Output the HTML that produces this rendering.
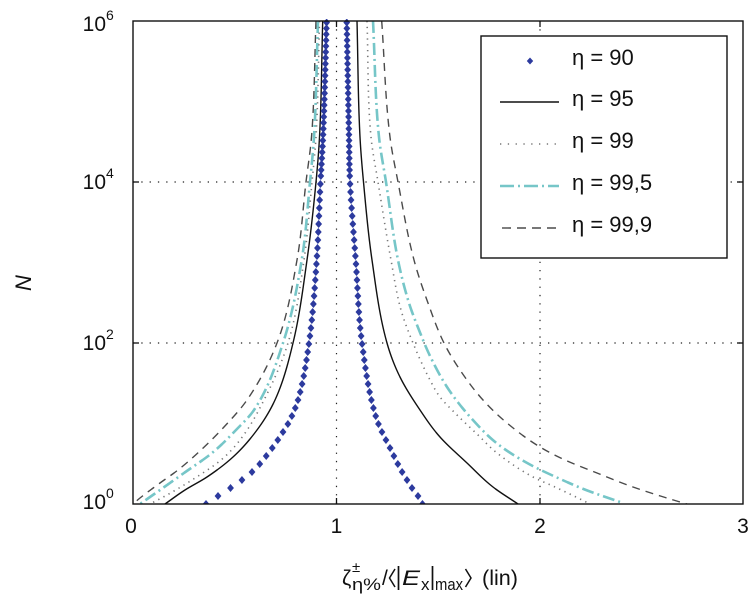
<!DOCTYPE html>
<html><head><meta charset="utf-8">
<style>
html,body{margin:0;padding:0;background:#fff;}
svg{display:block}
text{font-family:"Liberation Sans",Arial,sans-serif;fill:#111}
</style></head>
<body>
<svg id="s" width="756" height="598" viewBox="0 0 756 598" xmlns="http://www.w3.org/2000/svg">
<defs><clipPath id="c"><rect x="133" y="19" width="610" height="485"/></clipPath></defs>
<rect width="756" height="598" fill="#fff"/>
<g stroke="#222" stroke-width="1.2" stroke-dasharray="1.3 7" fill="none">
 <line x1="336.5" y1="21" x2="336.5" y2="504"/>
 <line x1="540" y1="21" x2="540" y2="504"/>
 <line x1="133" y1="343" x2="743" y2="343"/>
 <line x1="133" y1="182" x2="743" y2="182"/>
</g>
<g id="curves" clip-path="url(#c)"></g>
<!-- legend -->
<g>
 <rect x="481" y="36" width="246" height="222" fill="#fff" stroke="#111" stroke-width="1.4"/>
 <polygon points="530,57.5 533.2,61 530,64.5 526.8,61" fill="#2c3a9e"/>
 <line x1="500" y1="102" x2="559" y2="102" stroke="#111" stroke-width="1.4"/>
 <line x1="500" y1="144" x2="559" y2="144" stroke="#777" stroke-width="1.6" stroke-dasharray="1.3 6.5"/>
 <line x1="500" y1="186" x2="559" y2="186" stroke="#76c6c8" stroke-width="2.6" stroke-dasharray="14 4 2 4"/>
 <line x1="502" y1="228" x2="559" y2="228" stroke="#4a4a4a" stroke-width="1.4" stroke-dasharray="9 6"/>
 <text x="572" y="65" font-size="22">η = 90</text>
 <text x="572" y="106" font-size="22">η = 95</text>
 <text x="572" y="148" font-size="22">η = 99</text>
 <text x="572" y="190" font-size="22">η = 99,5</text>
 <text x="572" y="232" font-size="22">η = 99,9</text>
</g>
<!-- axes box -->
<rect x="133" y="21" width="610" height="483" fill="none" stroke="#111" stroke-width="1.4"/>
<g stroke="#111" stroke-width="1.3">
 <line x1="336.5" y1="504" x2="336.5" y2="498"/><line x1="540" y1="504" x2="540" y2="498"/>
 <line x1="336.5" y1="21" x2="336.5" y2="27"/><line x1="540" y1="21" x2="540" y2="27"/>
 <line x1="133" y1="343" x2="139" y2="343"/><line x1="133" y1="182" x2="139" y2="182"/>
 <line x1="743" y1="343" x2="737" y2="343"/><line x1="743" y1="182" x2="737" y2="182"/>
</g>
<!-- y tick labels -->
<g font-size="21" text-anchor="end">
 <text x="106" y="31">10</text>
 <text x="106" y="189">10</text>
 <text x="106" y="350">10</text>
 <text x="106" y="509">10</text>
</g>
<g font-size="14">
 <text x="106" y="20">6</text>
 <text x="106" y="178">4</text>
 <text x="106" y="339">2</text>
 <text x="106" y="498">0</text>
</g>
<!-- x tick labels -->
<g font-size="21" text-anchor="middle">
 <text x="131" y="533">0</text>
 <text x="336.5" y="533">1</text>
 <text x="540" y="533">2</text>
 <text x="743" y="533">3</text>
</g>
<!-- y label -->
<text transform="translate(31,283) rotate(-90)" font-size="22" font-style="italic" text-anchor="middle">N</text>
<!-- x label -->
<g>
 <text x="342" y="585" font-size="21">ζ</text>
 <text x="352" y="572" font-size="15">±</text>
 <text x="352" y="590" font-size="17" textLength="29" lengthAdjust="spacingAndGlyphs">η%</text>
 <text x="382" y="585" font-size="21">/</text>
 <polyline points="395,569 389.5,578 395,587" fill="none" stroke="#111" stroke-width="1.5"/>
 <line x1="398.5" y1="566" x2="398.5" y2="590" stroke="#111" stroke-width="1.7"/>
 <text x="402" y="585" font-size="21" font-style="italic" textLength="18" lengthAdjust="spacingAndGlyphs">E</text>
 <text x="421" y="590" font-size="17">x</text>
 <line x1="432.5" y1="566" x2="432.5" y2="590" stroke="#111" stroke-width="1.7"/>
 <text x="435" y="590" font-size="17" textLength="28" lengthAdjust="spacingAndGlyphs">max</text>
 <polyline points="465.5,569 471,578 465.5,587" fill="none" stroke="#111" stroke-width="1.5"/>
 <text x="482" y="585" font-size="21" textLength="36" lengthAdjust="spacingAndGlyphs">(lin)</text>
</g>
</svg>
<script>
(function(){
function makeInterp(p){
  const n=p.length, Y=p.map(a=>a[0]), X=p.map(a=>a[1]);
  const d=[],m=new Array(n);
  for(let i=0;i<n-1;i++) d.push((X[i+1]-X[i])/(Y[i+1]-Y[i]));
  m[0]=d[0]; m[n-1]=d[n-2];
  for(let i=1;i<n-1;i++){ if(d[i-1]*d[i]<=0) m[i]=0; else m[i]=(d[i-1]+d[i])/2; }
  for(let i=0;i<n-1;i++){ if(d[i]===0){m[i]=m[i+1]=0;continue;} const a=m[i]/d[i], b=m[i+1]/d[i], s=a*a+b*b; if(s>9){const t=3/Math.sqrt(s); m[i]=t*a*d[i]; m[i+1]=t*b*d[i];} }
  const f=function(y){
    let i=0; while(i<n-2 && y>Y[i+1]) i++;
    const h=Y[i+1]-Y[i], t=(y-Y[i])/h, t2=t*t, t3=t2*t;
    return (2*t3-3*t2+1)*X[i]+(t3-2*t2+t)*h*m[i]+(-2*t3+3*t2)*X[i+1]+(t3-t2)*h*m[i+1];
  };
  f.y0=Y[0]; f.y1=Y[n-1];
  return f;
}
const NS="http://www.w3.org/2000/svg";
const g=document.getElementById("curves");
function path(f,attrs){
  let d="";
  for(let y=f.y0;y<=f.y1+0.001;y+=0.5){ d+=(d?"L":"M")+f(y).toFixed(2)+","+y.toFixed(2); }
  const e=document.createElementNS(NS,"path");
  e.setAttribute("d",d); e.setAttribute("fill","none");
  for(const k in attrs) e.setAttribute(k,attrs[k]);
  g.appendChild(e);
}
const D90L=[[20,326.7],[137,323],[182,320.5],[260,316.7],[343,309],[400,298],[420,290],[432,283],[455,267],[472,252],[487,232],[496,218],[504,206]];
const D90R=[[20,346.7],[137,349],[182,350],[260,355.7],[343,362],[420,377],[450,391],[470,401],[480,407],[488,412],[496,418],[505,423]];
const S95L=[[21,322.7],[137,319.5],[182,316],[260,307],[343,293],[400,275],[430,257],[457,233],[477,207],[490,185],[504,165]];
const S95R=[[21,357],[137,360],[182,363.5],[260,372],[343,387],[377,400],[410,420],[437,440],[463,467],[487,493],[504,518]];
const P99L=[[21,319.5],[137,316],[182,312],[260,304],[343,288],[400,264],[440,240],[460,221],[480,192],[495,167],[504,150]];
const P99R=[[21,367],[137,371],[182,378],[260,391],[310,401],[343,413],[380,430],[397,440],[413,455],[435,478],[453,497],[477,533],[487,555],[497,576],[504,590]];
const C995L=[[21,318],[137,314],[182,310],[260,301.7],[343,283],[410,254],[430,236],[453,212],[473,184],[490,160],[504,140]];
const C995R=[[21,373],[137,379],[182,386],[260,398],[303,409],[330,419],[358,431],[390,449],[419,472],[445,499],[464,529],[478,558],[490,586],[502,620]];
const Q999L=[[21,316],[137,311.5],[182,306],[260,297],[343,277],[400,247],[427,224],[450,201],[470,178],[483,160],[498,140],[504,133]];
const Q999R=[[21,381.7],[137,390],[182,398],[260,414],[303,428],[343,444],[370,460],[400,483],[423,507],[447,540],[460,565],[473,597],[487,633],[502,680],[504,687]];
const dashA={stroke:"#4a4a4a","stroke-width":"1.4","stroke-dasharray":"8 6"};
const cyanA={stroke:"#76c6c8","stroke-width":"2.6","stroke-dasharray":"12 4 2 4"};
const dotA={stroke:"#777","stroke-width":"1.6","stroke-dasharray":"1.3 4.5"};
const solA={stroke:"#111","stroke-width":"1.4"};
path(makeInterp(Q999L),dashA); path(makeInterp(Q999R),dashA);
path(makeInterp(C995L),cyanA); path(makeInterp(C995R),cyanA);
path(makeInterp(P99L),dotA); path(makeInterp(P99R),dotA);
path(makeInterp(S95L),solA); path(makeInterp(S95R),solA);
const fl=makeInterp(D90L), fr=makeInterp(D90R);
const ys=[];
for(let y=504;y>=170;y-=8) ys.push(y);
for(let y=ys[ys.length-1]-6;y>=19;y-=5.9) ys.push(y);
function dia(x,y){
  const e=document.createElementNS(NS,"polygon");
  e.setAttribute("points",`${x},${y-4} ${x+3.4},${y} ${x},${y+4} ${x-3.4},${y}`);
  e.setAttribute("fill","#2c3a9e");
  g.appendChild(e);
}
ys.forEach(y=>{ const yy=Math.max(y,20); dia(fl(yy),y); dia(fr(yy),y); });
})();
</script>
</body></html>
